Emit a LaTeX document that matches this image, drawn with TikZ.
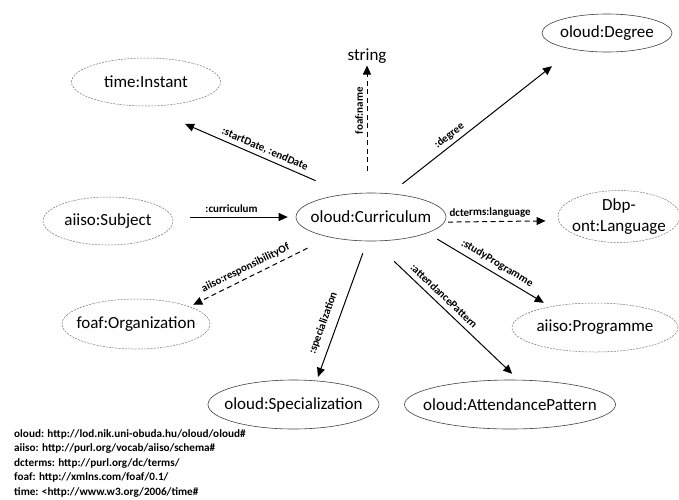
\documentclass[tikz,border=0pt]{standalone}
\usepackage{fontspec}
\setmainfont{Carlito}
\usetikzlibrary{shapes.geometric, arrows.meta}

\tikzset{
  concept/.style={ellipse, draw=black!75, line width=0.6pt, inner xsep=-1.5em, inner ysep=0pt,
    font=\fontsize{17}{21}\selectfont, align=center},
  extconcept/.style={concept, draw=black!55, line width=0.5pt, dash pattern=on 2pt off 1.2pt},
  rel/.style={line width=1pt, -{Triangle[length=9pt, width=8pt]}},
  optrel/.style={rel, dash pattern=on 5pt off 3.5pt},
  rellabel/.style={font=\bfseries\fontsize{11}{12}\selectfont, sloped, above=2.5pt, inner sep=1pt}
}

\begin{document}
\begin{tikzpicture}[x=1pt, y=1pt]
    \useasboundingbox (0,0) rectangle (679,-499);

    % Classes
    \node[concept, minimum width=150pt, minimum height=48pt] (curriculum) at (371,-217) {oloud:Curriculum};
    \node[extconcept, minimum width=149pt, minimum height=48pt] (instant) at (146,-82) {time:Instant};
    \node[font=\fontsize{17}{20}\selectfont, inner sep=1pt] (string) at (367,-56) {string};
    \node[concept, minimum width=130pt, minimum height=38pt] (degree) at (607,-33) {oloud:Degree};
    \node[extconcept, minimum width=130pt, minimum height=48pt] (subject) at (108,-221) {aiiso:Subject};
    \node[extconcept, minimum width=122pt, minimum height=52pt, inner ysep=-4pt] (language) at (619,-216.5) {Dbp-\\ont:Language};
    \node[extconcept, minimum width=148pt, minimum height=50pt] (organization) at (136,-324) {foaf:Organization};
    \node[extconcept, minimum width=166pt, minimum height=49pt] (programme) at (595,-327.5) {aiiso:Programme};
    \node[concept, minimum width=171pt, minimum height=49pt] (specialization) at (293.5,-404.5) {oloud:Specialization};
    \node[concept, minimum width=211pt, minimum height=49pt] (attendance) at (510,-404.5) {oloud:AttendancePattern};

    % Properties
    \draw[rel, shorten <=33.5pt, shorten >=44.5pt] (curriculum.137) -- node[rellabel, pos=0.42] {:startDate, :endDate} (instant.266);
    \draw[optrel, shorten <=22pt, shorten >=1pt] (string |- curriculum.north) -- node[rellabel, pos=0.64] {foaf:name} (string.south);
    \draw[rel, shorten <=15.6pt, shorten >=27pt] (curriculum.51) -- node[rellabel, pos=0.354] {:degree} (degree.206);
    \draw[rel, shorten <=17pt, shorten >=8pt] (subject.east |- curriculum) -- node[rellabel, pos=0.476] {:curriculum} (curriculum);
    \draw[optrel, shorten <=3.6pt, shorten >=13pt] (curriculum.-4) -- node[rellabel, pos=0.40] {dcterms:language} (language.184);
    \draw[optrel, shorten <=24.5pt, shorten >=4pt] (curriculum.206) -- node[rellabel, above=1pt, pos=0.57] {aiiso:responsibilityOf} (organization.18);
    \draw[rel, shorten <=12.8pt, shorten >=4pt] (curriculum.261) -- node[rellabel, above=4.5pt, pos=0.62] {:specialization} (specialization.46);
    \draw[rel, shorten <=29pt, shorten >=8.7pt] (curriculum.275) -- node[rellabel, above=1.5pt, pos=0.444] {:attendancePattern} (attendance.71);
    \draw[rel, shorten <=11.6pt, shorten >=7.5pt] (curriculum.344) -- node[rellabel, above=1pt, pos=0.527] {:studyProgramme} (programme.155);

    % Namespaces
    \node[font=\bfseries\fontsize{11.2}{14.5}\selectfont, align=left, anchor=north west, inner sep=0pt] (prefixes) at (14,-429)
      {oloud: http://lod.nik.uni-obuda.hu/oloud/oloud\#\\
       aiiso: http://purl.org/vocab/aiiso/schema\#\\
       dcterms: http://purl.org/dc/terms/\\
       foaf: http://xmlns.com/foaf/0.1/\\
       time: <http://www.w3.org/2006/time\#};
\end{tikzpicture}
\end{document}
